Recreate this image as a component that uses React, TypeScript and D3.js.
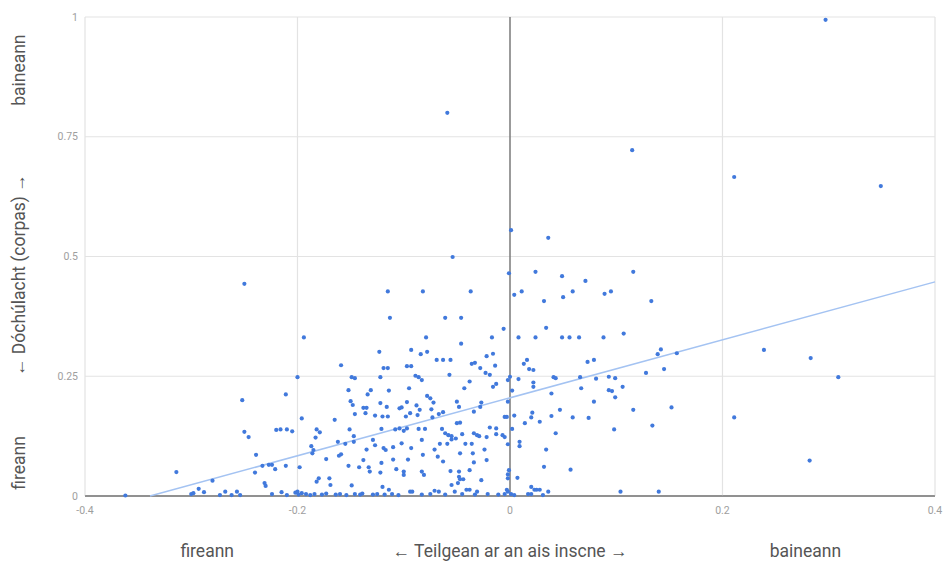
import React from "react";
import * as d3 from "d3";

type P = [number, number];

const xTicks = [-0.4, -0.2, 0, 0.2, 0.4];
const xTickLabels = ["-0.4", "-0.2", "0", "0.2", "0.4"];
const yTicks = [0, 0.25, 0.5, 0.75, 1];
const yTickLabels = ["0", "0.25", "0.5", "0.75", "1"];

const xTitleParts = ["fireann", "← Teilgean ar an ais inscne →", "baineann"];
const yTitleParts = ["fireann", "←  Dóchúlacht (corpas)  →", "baineann"];

const trendSlope = 0.605;
const trendIntercept = 0.205;

const outlierPoints: P[] = [
  [0.297, 0.994], [-0.059, 0.8], [0.115, 0.722], [0.211, 0.666], [0.349, 0.647], [0.001, 0.555],
  [0.036, 0.539], [-0.054, 0.499], [-0.001, 0.465], [0.024, 0.468], [0.049, 0.459], [0.116, 0.468],
  [0.071, 0.449], [-0.25, 0.443],
];

const upperPoints: P[] = [
  [0.004, 0.42], [0.011, 0.427], [0.032, 0.407], [0.05, 0.415], [0.059, 0.427], [0.089, 0.422],
  [0.095, 0.427], [0.133, 0.407], [-0.115, 0.427], [-0.082, 0.427], [-0.037, 0.427], [-0.113, 0.372],
  [-0.061, 0.372], [-0.046, 0.372], [-0.006, 0.349], [0.034, 0.351], [-0.194, 0.331], [-0.079, 0.331],
  [-0.017, 0.331], [0.008, 0.331], [0.024, 0.331], [0.049, 0.331], [0.056, 0.331], [0.065, 0.331],
  [0.088, 0.331], [0.107, 0.339], [-0.046, 0.318], [0.239, 0.305], [0.283, 0.288], [0.142, 0.306],
  [0.139, 0.296], [0.157, 0.298], [-0.123, 0.301], [-0.093, 0.305], [-0.084, 0.296], [-0.078, 0.301],
  [-0.022, 0.292], [-0.016, 0.297],
];

const midPoints: P[] = [
  [0.016, 0.284], [0.013, 0.276], [0.018, 0.265], [0.022, 0.263], [0.073, 0.28], [0.079, 0.284],
  [-0.069, 0.284], [-0.063, 0.284], [-0.056, 0.284], [-0.159, 0.273], [-0.036, 0.276], [-0.033, 0.278],
  [-0.028, 0.267], [-0.014, 0.272], [-0.119, 0.267], [-0.115, 0.267], [-0.097, 0.271], [-0.093, 0.271],
  [0.128, 0.257], [0.145, 0.265], [0.309, 0.248], [0.0, 0.249], [0.008, 0.244], [0.041, 0.248],
  [0.043, 0.246], [0.066, 0.248], [0.081, 0.245], [0.093, 0.249], [0.099, 0.246], [-0.2, 0.248],
  [-0.149, 0.248], [-0.146, 0.246], [-0.122, 0.248], [-0.089, 0.251], [-0.086, 0.248], [-0.083, 0.242],
  [-0.057, 0.253], [-0.023, 0.257], [-0.019, 0.253], [-0.038, 0.239], [-0.002, 0.242], [0.022, 0.237],
  [0.022, 0.228], [0.106, 0.228], [-0.013, 0.234], [-0.016, 0.228], [0.002, 0.22], [0.039, 0.214],
  [0.067, 0.225], [0.093, 0.221], [0.096, 0.219], [0.099, 0.206], [-0.152, 0.221], [-0.131, 0.221],
  [-0.114, 0.22], [-0.095, 0.225], [-0.043, 0.225], [-0.134, 0.212], [-0.211, 0.212], [-0.078, 0.209],
  [-0.075, 0.204],
];

const lowerMidPoints: P[] = [
  [-0.072, 0.195], [-0.252, 0.2], [-0.15, 0.198], [-0.148, 0.19], [-0.002, 0.197], [0.079, 0.197],
  [-0.138, 0.184], [-0.135, 0.184], [-0.122, 0.194], [-0.116, 0.186], [-0.104, 0.183], [-0.102, 0.185],
  [-0.097, 0.196], [-0.094, 0.173], [-0.088, 0.189], [-0.085, 0.18], [-0.074, 0.181], [-0.05, 0.197],
  [-0.048, 0.186], [-0.027, 0.195], [-0.028, 0.186], [-0.034, 0.176], [0.116, 0.18], [0.152, 0.185],
  [0.211, 0.164], [-0.146, 0.171], [-0.136, 0.173], [-0.127, 0.168], [-0.12, 0.166], [-0.115, 0.166],
  [-0.098, 0.166], [-0.087, 0.169], [-0.073, 0.164], [-0.067, 0.171], [-0.063, 0.175], [-0.005, 0.165],
  [-0.003, 0.165], [0.004, 0.168], [0.021, 0.174], [0.02, 0.164], [0.039, 0.167], [0.047, 0.18],
  [0.059, 0.164], [0.074, 0.163], [-0.196, 0.162], [-0.165, 0.159], [-0.05, 0.152], [-0.047, 0.153],
  [0.028, 0.155], [0.014, 0.152], [0.134, 0.147], [0.002, 0.14], [0.098, 0.139], [0.043, 0.131],
  [-0.25, 0.134], [-0.246, 0.123], [-0.22, 0.138], [-0.216, 0.139], [-0.21, 0.139], [-0.205, 0.135],
  [-0.182, 0.139], [-0.179, 0.133], [-0.183, 0.122], [-0.151, 0.139], [-0.147, 0.125], [-0.147, 0.113],
  [-0.121, 0.14], [-0.108, 0.139], [-0.104, 0.141], [-0.1, 0.136], [-0.097, 0.141], [-0.086, 0.14],
  [-0.08, 0.14], [-0.064, 0.14], [-0.061, 0.131], [-0.058, 0.127], [-0.055, 0.125], [-0.051, 0.12],
  [-0.055, 0.118], [-0.045, 0.129], [-0.034, 0.131], [-0.031, 0.127], [-0.029, 0.125], [-0.022, 0.123],
  [-0.019, 0.143], [-0.013, 0.141], [-0.013, 0.129], [-0.005, 0.123], [-0.007, 0.127], [-0.129, 0.117],
  [-0.127, 0.106], [-0.162, 0.113], [-0.155, 0.109], [-0.083, 0.117],
];

const lowPoints: P[] = [
  [-0.119, 0.1], [-0.117, 0.096], [-0.11, 0.102], [-0.102, 0.11], [-0.093, 0.1], [-0.071, 0.097],
  [-0.066, 0.109], [-0.059, 0.109], [-0.042, 0.109], [-0.036, 0.109], [-0.024, 0.097], [-0.002, 0.108],
  [0.009, 0.113], [0.009, 0.104], [0.034, 0.097], [-0.187, 0.104], [-0.185, 0.096], [-0.186, 0.089],
  [-0.159, 0.087], [-0.161, 0.084], [-0.135, 0.097], [-0.239, 0.086], [-0.173, 0.077], [-0.152, 0.063],
  [-0.142, 0.06], [-0.138, 0.075], [-0.133, 0.06], [-0.121, 0.069], [-0.11, 0.076], [-0.096, 0.076],
  [-0.082, 0.086], [-0.068, 0.082], [-0.063, 0.072], [-0.047, 0.089], [-0.035, 0.089], [-0.034, 0.07],
  [-0.022, 0.075], [0.282, 0.074], [0.032, 0.061], [0.057, 0.055], [-0.001, 0.054], [-0.002, 0.045],
  [0.007, 0.038], [0.02, 0.019], [-0.211, 0.063], [-0.233, 0.063], [-0.227, 0.065], [-0.224, 0.065],
  [-0.221, 0.056], [-0.24, 0.049], [-0.198, 0.06], [-0.314, 0.05], [-0.28, 0.032], [-0.293, 0.015],
  [-0.231, 0.027], [-0.23, 0.021], [-0.18, 0.037], [-0.182, 0.03], [-0.17, 0.037], [-0.169, 0.023],
  [-0.149, 0.022], [-0.132, 0.051], [-0.122, 0.049], [-0.107, 0.056], [-0.1, 0.051], [-0.1, 0.044],
  [-0.083, 0.051], [-0.081, 0.044], [-0.056, 0.052], [-0.048, 0.051], [-0.048, 0.04], [-0.038, 0.054],
  [-0.047, 0.035], [-0.049, 0.027], [-0.044, 0.035], [-0.027, 0.033], [-0.002, 0.037], [-0.12, 0.019],
  [-0.055, 0.023],
];

const baselinePoints: P[] = [
  [0.023, 0.013], [0.025, 0.013], [0.028, 0.013], [0.017, 0.004], [0.02, 0.004], [0.036, 0.009],
  [-0.002, 0.009], [0.001, 0.004], [0.104, 0.009], [0.14, 0.009], [-0.288, 0.008], [-0.3, 0.004],
  [-0.298, 0.006], [-0.362, 0.001], [-0.268, 0.009], [-0.273, 0.002], [-0.262, 0.002], [-0.257, 0.009],
  [-0.254, 0.002], [-0.224, 0.004], [-0.215, 0.008], [-0.21, 0.002], [-0.202, 0.007], [-0.2, 0.009],
  [-0.196, 0.006], [-0.188, 0.002], [-0.184, 0.004], [-0.114, 0.013], [-0.094, 0.009], [-0.092, 0.009],
  [-0.071, 0.011], [-0.067, 0.009], [-0.052, 0.009], [-0.041, 0.013], [-0.038, 0.013], [-0.031, 0.009],
  [-0.003, 0.013], [-0.199, 0.003], [-0.192, 0.004], [-0.177, 0.003], [-0.173, 0.005], [-0.164, 0.003],
  [-0.16, 0.004], [-0.154, 0.002], [-0.146, 0.004], [-0.141, 0.003], [-0.139, 0.005], [-0.129, 0.003],
  [-0.125, 0.004], [-0.118, 0.003], [-0.111, 0.004], [-0.105, 0.002], [-0.083, 0.003], [-0.075, 0.004],
  [-0.061, 0.003], [-0.045, 0.004], [-0.033, 0.003], [-0.021, 0.004], [-0.011, 0.003], [-0.005, 0.004],
  [0.004, 0.002], [0.031, 0.002],
];

const W = 943;
const H = 562;
const plot = { left: 85, right: 935, top: 17, bottom: 496 };
const FONT = "Roboto, Arial, sans-serif";

export default function App() {
  const x = d3.scaleLinear().domain([-0.4, 0.4]).range([plot.left, plot.right]);
  const y = d3.scaleLinear().domain([0, 1]).range([plot.bottom, plot.top]);

  const allPoints = [
    ...outlierPoints,
    ...upperPoints,
    ...midPoints,
    ...lowerMidPoints,
    ...lowPoints,
    ...baselinePoints,
  ];

  const xStart = -trendIntercept / trendSlope;
  const trendData: P[] = [
    [xStart, trendSlope * xStart + trendIntercept],
    [0.4, trendSlope * 0.4 + trendIntercept],
  ];
  const line = d3
    .line<P>()
    .x((d) => x(d[0]))
    .y((d) => y(d[1]));

  const titleXPos = [-0.285, 0, 0.278];
  const titleYPos = [0.069, 0.461, 0.889];

  return (
    <svg
      width={W}
      height={H}
      style={{ position: "fixed", left: 0, top: 0, background: "#fff" }}
      fontFamily={FONT}
    >
      {yTicks.map((t) => (
        <line
          key={"gy" + t}
          x1={plot.left}
          x2={plot.right}
          y1={y(t)}
          y2={y(t)}
          stroke={t === 0 ? "#8a8a8a" : "#e3e3e3"}
          strokeWidth={t === 0 ? 1.5 : 1.2}
        />
      ))}
      {xTicks.map((t) => (
        <line
          key={"gx" + t}
          x1={x(t)}
          x2={x(t)}
          y1={plot.top}
          y2={plot.bottom}
          stroke={t === 0 ? "#7a7a7a" : "#e3e3e3"}
          strokeWidth={t === 0 ? 1.5 : 1.2}
        />
      ))}
      <line x1={plot.left} x2={plot.right} y1={y(0)} y2={y(0)} stroke="#8a8a8a" strokeWidth={1.5} />

      {yTicks.map((t, i) => (
        <text
          key={"ty" + t}
          x={plot.left - 7}
          y={y(t)}
          dy="0.35em"
          textAnchor="end"
          fontSize={10.5}
          fill="#9e9e9e"
        >
          {yTickLabels[i]}
        </text>
      ))}
      {xTicks.map((t, i) => (
        <text
          key={"tx" + t}
          x={x(t)}
          y={plot.bottom + 14}
          dy="0.35em"
          textAnchor="middle"
          fontSize={10.5}
          fill="#9e9e9e"
        >
          {xTickLabels[i]}
        </text>
      ))}

      <path d={line(trendData) || ""} fill="none" stroke="#a4c3f2" strokeWidth={1.5} />

      {allPoints.map((d, i) => (
        <circle key={i} cx={x(d[0])} cy={y(d[1])} r={2.1} fill="#4179dc" />
      ))}

      {xTitleParts.map((s, i) => (
        <text
          key={"xt" + i}
          x={x(titleXPos[i])}
          y={551}
          dy="0.35em"
          textAnchor="middle"
          fontSize={17.5}
          fill="#555"
        >
          {s}
        </text>
      ))}
      {yTitleParts.map((s, i) => (
        <text
          key={"yt" + i}
          transform={`translate(19, ${y(titleYPos[i])}) rotate(-90)`}
          dy="0.35em"
          textAnchor="middle"
          fontSize={17.5}
          fill="#555"
        >
          {s}
        </text>
      ))}
    </svg>
  );
}
